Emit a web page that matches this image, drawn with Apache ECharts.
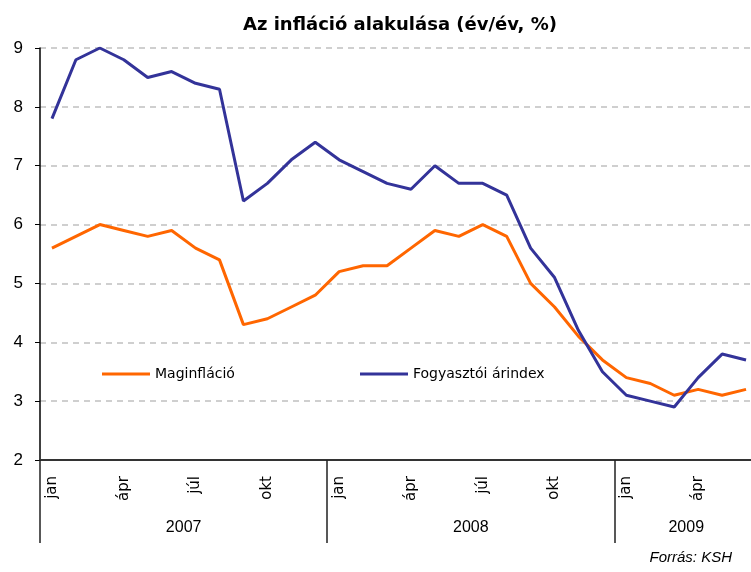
<!DOCTYPE html>
<html>
<head>
<meta charset="utf-8">
<title>Az infláció alakulása</title>
<script src="https://cdn.jsdelivr.net/npm/echarts@6/dist/echarts.min.js"></script>
<style>
  html, body { margin: 0; padding: 0; background: #fff; }
  #chart-box { width: 751px; height: 572px; }
</style>
</head>
<body>
<div id="chart-box"></div>
<script>
// havi adatok 2007 jan - 2009 jún
const months = [
  'jan', 'feb', 'márc', 'ápr', 'máj', 'jún', 'júl', 'aug', 'szept', 'okt', 'nov', 'dec',
  'jan', 'feb', 'márc', 'ápr', 'máj', 'jún', 'júl', 'aug', 'szept', 'okt', 'nov', 'dec',
  'jan', 'feb', 'márc', 'ápr', 'máj', 'jún'
]
const years = [
  '2007', '2007', '2007', '2007', '2007', '2007', '2007', '2007', '2007', '2007', '2007', '2007',
  '2008', '2008', '2008', '2008', '2008', '2008', '2008', '2008', '2008', '2008', '2008', '2008',
  '2009', '2009', '2009', '2009', '2009', '2009'
]
const maginflacio = [
  5.6, 5.8, 6.0, 5.9, 5.8, 5.9, 5.6, 5.4, 4.3, 4.4, 4.6, 4.8,
  5.2, 5.3, 5.3, 5.6, 5.9, 5.8, 6.0, 5.8, 5.0, 4.6, 4.1, 3.7,
  3.4, 3.3, 3.1, 3.2, 3.1, 3.2
]
const arindex = [
  7.8, 8.8, 9.0, 8.8, 8.5, 8.6, 8.4, 8.3, 6.4, 6.7, 7.1, 7.4,
  7.1, 6.9, 6.7, 6.6, 7.0, 6.7, 6.7, 6.5, 5.6, 5.1, 4.2, 3.5,
  3.1, 3.0, 2.9, 3.4, 3.8, 3.7
]
// az évfeliratok helye (évközép) és az évhatárok
const yearLabelIdx = [5, 17, 26]
const yearStartIdx = [0, 12, 24]

const font = 'Liberation Sans, Arial, sans-serif'
const wideFont = 'DejaVu Sans, Verdana, sans-serif'

let chart = echarts.init(document.getElementById('chart-box'))
chart.setOption({
  animation: false,
  title: [{
    text: 'Az infláció alakulása (év/év, %)',
    left: 238,
    top: 11,
    textStyle: {fontFamily: wideFont, fontWeight: 'bold', fontSize: 18, color: '#000'}
  }, {
    text: 'Forrás: KSH',
    right: 14,
    bottom: 2,
    textStyle: {fontFamily: font, fontStyle: 'italic', fontWeight: 'normal', fontSize: 15, color: '#000'}
  }],
  legend: [{
    data: ['Maginfláció'],
    left: 97,
    top: 362,
    icon: 'rect',
    itemWidth: 48,
    itemHeight: 3,
    textStyle: {fontFamily: wideFont, fontSize: 14, color: '#000'}
  }, {
    data: ['Fogyasztói árindex'],
    left: 355,
    top: 362,
    icon: 'rect',
    itemWidth: 48,
    itemHeight: 3,
    textStyle: {fontFamily: wideFont, fontSize: 14, color: '#000'}
  }],
  // a diagram jobb széle kilóg a képből (2009 jún után)
  grid: {left: 40, width: 718, top: 48, bottom: 112, outerBoundsMode: 'none', containLabel: false},
  xAxis: [{
    type: 'category',
    data: months,
    boundaryGap: true,
    axisLine: {lineStyle: {color: '#333', width: 2}},
    axisTick: {show: false},
    axisLabel: {
      interval: 2,
      rotate: 90,
      margin: 16,
      fontFamily: wideFont,
      fontSize: 15,
      color: '#000'
    },
    splitLine: {show: false}
  }, {
    type: 'category',
    data: years,
    position: 'bottom',
    boundaryGap: true,
    axisLine: {show: false},
    axisTick: {
      show: true,
      length: 83,
      interval: (i) => yearStartIdx.includes(i),
      lineStyle: {color: '#222', width: 1.5}
    },
    axisLabel: {
      interval: 0,
      margin: 60,
      padding: [0, 0, 0, 24],
      fontFamily: font,
      fontSize: 16,
      color: '#000',
      formatter: (v, i) => yearLabelIdx.includes(i) ? v : ''
    },
    splitLine: {show: false}
  }],
  yAxis: {
    type: 'value',
    min: 2,
    max: 9,
    interval: 1,
    axisLine: {show: true, lineStyle: {color: '#000', width: 1.5}},
    axisTick: {show: true, length: 5, lineStyle: {color: '#000'}},
    axisLabel: {margin: 17, fontFamily: font, fontSize: 17, color: '#000'},
    splitLine: {lineStyle: {color: '#c0c0c0', type: [6, 5], width: 1.5}}
  },
  series: [{
    name: 'Maginfláció',
    type: 'line',
    data: maginflacio,
    showSymbol: false,
    symbol: 'none',
    itemStyle: {color: '#ff6600'},
    lineStyle: {color: '#ff6600', width: 3}
  }, {
    name: 'Fogyasztói árindex',
    type: 'line',
    data: arindex,
    showSymbol: false,
    symbol: 'none',
    itemStyle: {color: '#333399'},
    lineStyle: {color: '#333399', width: 3}
  }]
})
</script>
</body>
</html>
